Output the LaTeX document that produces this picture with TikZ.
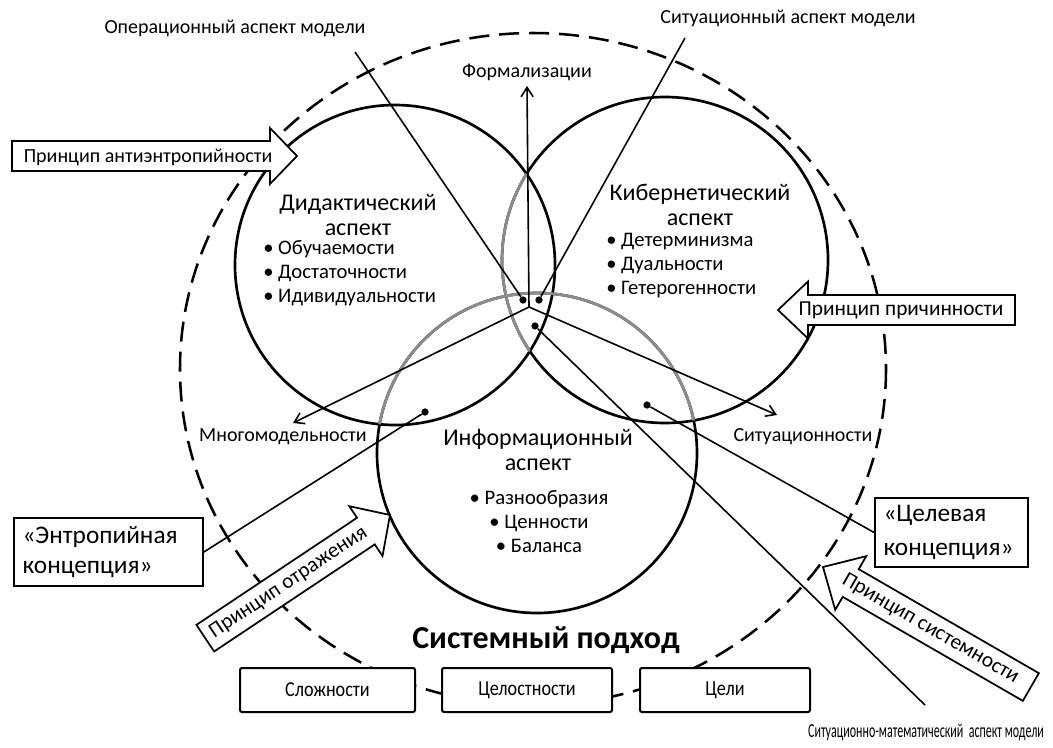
\documentclass[tikz,border=0pt]{standalone}
\usepackage{fontspec}
\setmainfont{Carlito}
\usepackage{graphicx}
\usetikzlibrary{arrows.meta}
\begin{document}
\begin{tikzpicture}[x=0.75pt,y=-0.75pt,
  circ/.style={line width=2pt},
  gcirc/.style={line width=2pt, draw=black!45},
  conn/.style={line width=1.2pt},
  arr/.style={line width=1.2pt, -{Straight Barb[length=7pt,width=9pt]}},
  dot/.style={circle, fill=black, inner sep=0pt, minimum size=5.5pt},
  lbl/.style={font=\fontsize{15}{18}\selectfont, inner sep=1pt},
  plbl/.style={font=\fontsize{16}{18}\selectfont, inner sep=1pt},
  blk/.style={draw, fill=white, line width=1.3pt, line join=miter},
  box/.style={draw, fill=white, line width=1.5pt, rounded corners=1.5pt},
  cbox/.style={draw, fill=white, line width=1.3pt, align=left, inner sep=0pt},
  dashc/.style={line width=1.9pt, dash pattern=on 15pt off 7.5pt},
  ttl/.style={font=\fontsize{18}{18.75}\selectfont, align=center, inner sep=0pt},
  itm/.style={font=\fontsize{15.5}{18}\selectfont, inner sep=0pt},
]
\useasboundingbox (0,0) rectangle (1053,747);
\fill[white] (0,0) rectangle (1053,747);

% dashed system ellipse
\draw[dashc] (533,369) ellipse [x radius=353, y radius=336];

% three aspect circles
\coordinate (cD) at (395,265);
\coordinate (cK) at (665,260);
\coordinate (cI) at (537,453);
\draw[circ] (cD) circle[radius=160];
\draw[circ] (cK) circle[radius=163];
\draw[circ] (cI) circle[radius=160];
\begin{scope}
  \clip (cD) circle[radius=160];
  \draw[gcirc] (cK) circle[radius=163];
  \draw[gcirc] (cI) circle[radius=160];
\end{scope}
\begin{scope}
  \clip (cK) circle[radius=163];
  \draw[gcirc] (cI) circle[radius=160];
\end{scope}

% dots
\node[dot] (d1) at (523,300) {};
\node[dot] (d2) at (539,300) {};
\node[dot] (d3) at (535,326) {};
\node[dot] (d4) at (425,412) {};
\node[dot] (d5) at (647,405) {};

% labels
\node[lbl] (opl) at (235,28) {Операционный аспект модели};
\node[lbl] (sitl) at (788,18) {Ситуационный аспект модели};
\node[lbl] (sml) at (926,732) {\scalebox{0.6}[1]{Ситуационно-математический\ \ аспект модели}};
\node[lbl, inner sep=4pt] (formal) at (527,72) {Формализации};
\node[lbl] (mnogo) at (283,437) {Многомодельности};
\node[lbl] (situ) at (803,437) {Ситуационности};

% central arrows
\coordinate (C) at (529,307);
\coordinate (mTip) at (293,423);
\coordinate (sTip) at (777,415);
\draw[arr] (C) -- (formal.south);
\draw[arr] (C) -- (mTip);
\draw[arr] (C) -- (sTip);

% aspect lines
\coordinate (opE) at (355,52);
\coordinate (sitE) at (685,38);
\coordinate (smE) at (925,705);
\draw[conn] (opE) -- (d1);
\draw[conn] (sitE) -- (d2);
\draw[conn] (smE) -- (d3);

% circle texts
\node[ttl] (dt) at (358,215) {Дидактический\\аспект};
\node[itm, anchor=west, align=left] (di) at (263,273) {• Обучаемости\\• Достаточности\\• Идивидуальности};
\node[ttl] (kt) at (700,205) {Кибернетический\\аспект};
\node[itm, anchor=west, align=left] (ki) at (606,266) {• Детерминизма\\• Дуальности\\• Гетерогенности};
\node[ttl] (it) at (538,450) {Информационный\\аспект};
\node[itm, align=center] (ii) at (539,522) {• Разнообразия\\• Ценности\\• Баланса};

% concept boxes
\node[cbox, font=\fontsize{19}{22}\selectfont, minimum width=189*0.75pt, minimum height=68*0.75pt, text width=172*0.75pt] (ent) at (108.5,552) {«Энтропийная\\концепция»};
\node[cbox, font=\fontsize{19}{25}\selectfont, minimum width=153*0.75pt, minimum height=69*0.75pt, text width=136*0.75pt] (tsel) at (951.5,532.5) {«Целевая\\концепция»};
\draw[conn] (ent.east) -- (d4);
\draw[conn] (tsel.west) -- (d5);

% block arrows
\begin{scope}[shift={(297,156)}]
  \draw[blk] (0,0) -- (-27,-28) -- (-27,-15) -- (-285,-15) -- (-285,15) -- (-27,15) -- (-27,28) -- cycle;
\end{scope}
\node[lbl] (pa) at (148,157) {Принцип антиэнтропийности};

\begin{scope}[shift={(778,310)}, rotate=180]
  \draw[blk] (0,0) -- (-30,-28.5) -- (-30,-15) -- (-237,-15) -- (-237,15) -- (-30,15) -- (-30,28.5) -- cycle;
\end{scope}
\node[plbl] (pp) at (901,310) {Принцип причинности};

\begin{scope}[shift={(390,515)}, rotate=33.7]
  \draw[blk] (0,0) -- (-29,-30) -- (-29,-16) -- (-222,-16) -- (-222,16) -- (-29,16) -- (-29,30) -- cycle;
  \node[plbl, rotate=33.7] (po) at (-122,0) {Принцип отражения};
\end{scope}

\begin{scope}[shift={(823,567)}, rotate=150]
  \draw[blk] (0,0) -- (-32,-31) -- (-32,-16) -- (-240,-16) -- (-240,16) -- (-32,16) -- (-32,31) -- cycle;
  \node[plbl, rotate=-30] (ps) at (-124,0) {Принцип системности};
\end{scope}

% systemic approach
\node[font=\bfseries\fontsize{24}{28}\selectfont, inner sep=0pt] (sp) at (546,640) {Системный подход};
\node[box, minimum width=175*0.75pt, minimum height=44*0.75pt, font=\fontsize{16}{18}\selectfont] (b1) at (327.5,690) {\scalebox{0.85}[1]{Сложности}};
\node[box, minimum width=170*0.75pt, minimum height=44*0.75pt, font=\fontsize{16}{18}\selectfont] (b2) at (527,690) {\scalebox{0.85}[1]{Целостности}};
\node[box, minimum width=170*0.75pt, minimum height=44*0.75pt, font=\fontsize{16}{18}\selectfont] (b3) at (725,690) {\scalebox{0.85}[1]{Цели}};
\end{tikzpicture}
\end{document}
